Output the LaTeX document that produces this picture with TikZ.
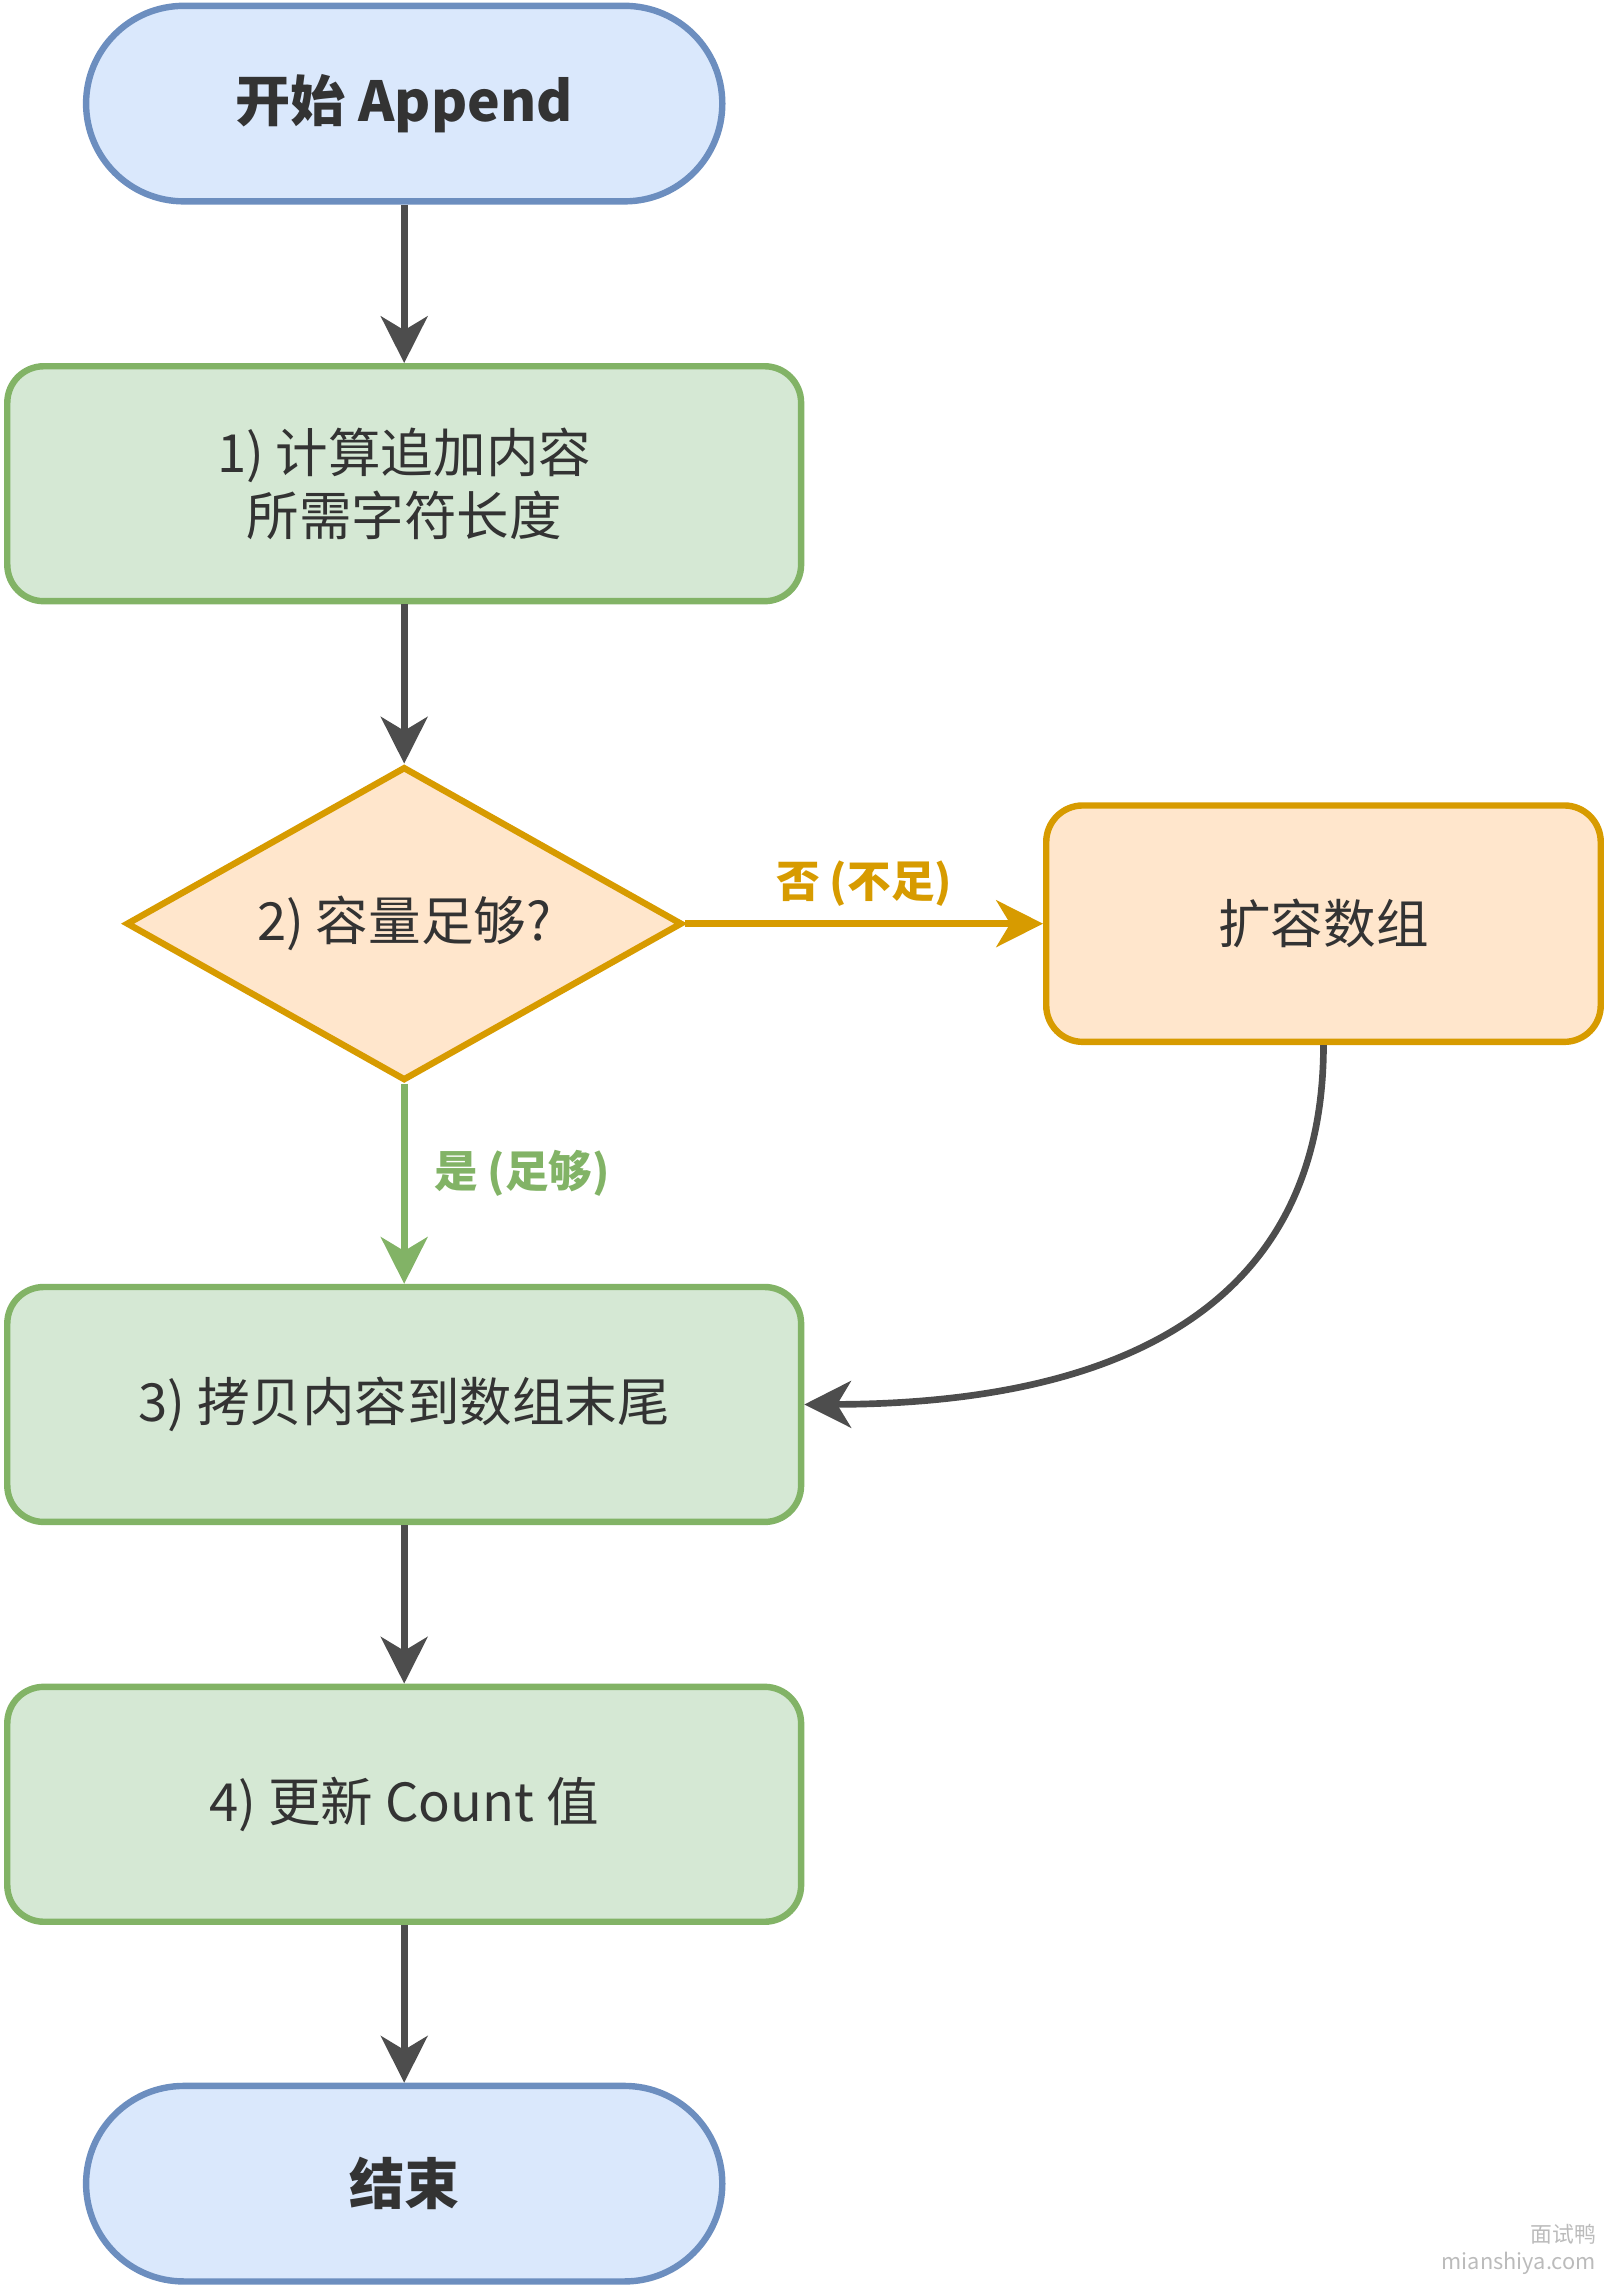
\documentclass[tikz,border=0pt]{standalone}
\usepackage{fontspec}
\setmainfont{Noto Sans CJK SC}
\usepackage{tikz}
\usetikzlibrary{shapes.geometric,arrows.meta}
\definecolor{bluefill}{HTML}{DAE8FC}
\definecolor{blueline}{HTML}{6C8EBF}
\definecolor{greenfill}{HTML}{D5E8D4}
\definecolor{greenline}{HTML}{82B366}
\definecolor{orangefill}{HTML}{FFE6CC}
\definecolor{orangeline}{HTML}{D79B00}
\definecolor{flowgray}{HTML}{4D4D4D}
\definecolor{txt}{HTML}{333333}
\definecolor{markgray}{HTML}{BBBBBB}
\tikzset{
  terminal/.style={draw=blueline,fill=bluefill,line width=2.5pt,rounded corners=13.4mm,
    minimum width=87.2mm,minimum height=26.8mm,text=txt,font=\fontsize{21.5}{26}\selectfont\bfseries},
  process/.style={draw=greenline,fill=greenfill,line width=2.5pt,rounded corners=5mm,
    minimum width=108.8mm,minimum height=32.2mm,text=txt,align=center,font=\fontsize{20.5}{24.5}\selectfont},
  decision/.style={diamond,aspect=1.76,draw=orangeline,fill=orangefill,line width=2.5pt,inner sep=0pt,
    minimum width=76.2mm,minimum height=43mm,text=txt,font=\fontsize{20.5}{24}\selectfont},
  growbox/.style={draw=orangeline,fill=orangefill,line width=2.5pt,rounded corners=5mm,
    minimum width=76mm,minimum height=32.4mm,text=txt,font=\fontsize{20.5}{24}\selectfont},
  flow/.style={draw=flowgray,line width=2.6pt,-{Stealth[length=6.4mm,width=6.4mm,inset=1.9mm]}},
  flowlabel/.style={font=\fontsize{17}{20}\selectfont\bfseries}
}
\begin{document}
\begin{tikzpicture}[x=0.2mm,y=-0.2mm]
\useasboundingbox (0,0) rectangle (1102,1568);
\node[terminal] (start) at (277,71) {开始 Append};
\node[process] (calc) at (277,331.5) {1) 计算追加内容\\所需字符长度};
\node[decision] (check) at (277,633) {2) 容量足够?};
\node[growbox] (grow) at (907,633) {扩容数组};
\node[process] (copy) at (277,962.5) {3) 拷贝内容到数组末尾};
\node[process] (count) at (277,1236.5) {4) 更新 Count 值};
\node[terminal] (stop) at (277,1496.5) {结束};

\draw[flow] (start) -- (calc);
\draw[flow] (calc) -- (check);
\draw[flow,draw=orangeline,color=orangeline] (check.east) -- node[above=0.8mm,flowlabel] {否 (不足)} (grow.west);
\draw[flow,draw=greenline,color=greenline] (check.south) -- node[right=2.5mm,pos=0.45,flowlabel] {是 (足够)} (copy.north);
\draw[flow] (grow.south) .. controls (907,900) and (760,962) .. (copy.east);
\draw[flow] (copy) -- (count);
\draw[flow] (count) -- (stop);

\node[anchor=east,text=markgray,font=\fontsize{8.5}{9}\selectfont,inner sep=0pt] (markcn) at (1094,1531) {面试鸭};
\node[anchor=east,text=markgray,font=\fontsize{8.5}{9}\selectfont,inner sep=0pt] (markurl) at (1094,1551) {mianshiya.com};
\end{tikzpicture}
\end{document}
